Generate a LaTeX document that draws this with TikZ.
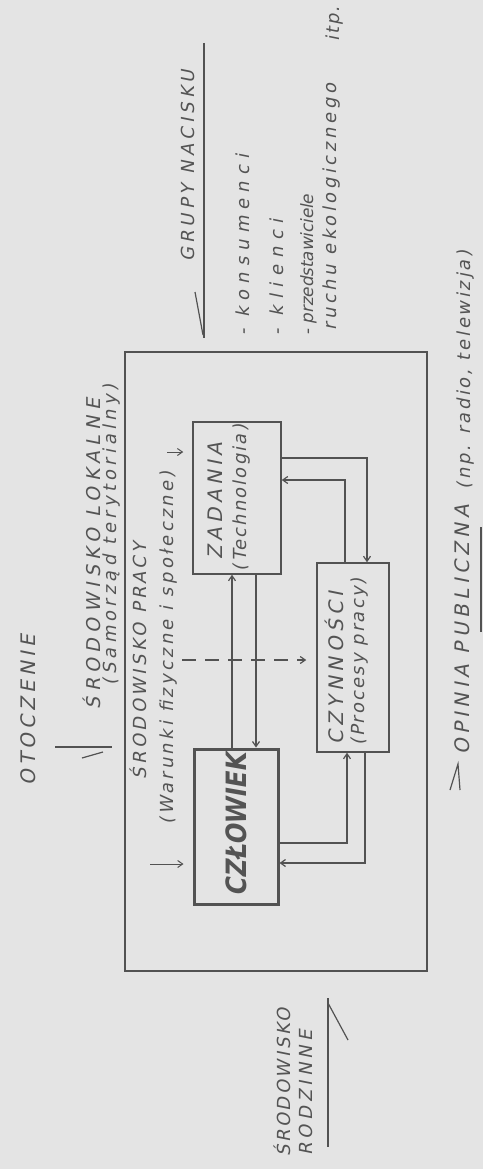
\documentclass[tikz,border=0pt]{standalone}
\usepackage{graphicx}
\usepackage{fontspec}
\setmainfont{DejaVu Sans}[FakeSlant=0.2]
\usetikzlibrary{arrows.meta}
\definecolor{bgc}{RGB}{228,228,228}
\definecolor{ink}{RGB}{82,82,82}
\definecolor{txtc}{RGB}{84,84,84}
\newcommand\lbl[3]{\fontsize{#1}{#1}\selectfont\addfontfeatures{LetterSpace=#2}#3}
\begin{document}
\begin{tikzpicture}[x=1pt,y=-1pt,
  txt/.style={rotate=90,inner sep=0pt,text=txtc,anchor=base},
  txs/.style={rotate=90,inner sep=0pt,text=txtc,anchor=base west},
  box/.style={draw=ink,line width=1.5pt,inner sep=0pt},
  conn/.style={draw=ink,line width=1.2pt,-{Straight Barb[length=5pt,width=7pt]}},
  leadmark/.style={draw=ink,line width=1.2pt}]
\fill[bgc] (0,0) rectangle (483,1169);
\useasboundingbox (0,0) rectangle (483,1169);
% boxes
\node[box,line width=1.6pt,minimum width=302pt,minimum height=619pt] (env) at (276,661.5) {};
\node[box,minimum width=88pt,minimum height=152pt] (zad) at (237,498) {};
\node[box,minimum width=72pt,minimum height=189pt] (czyn) at (353,657.5) {};
\node[box,line width=3pt,minimum width=84pt,minimum height=155pt] (czl) at (236,826.5) {};
% texts
\node[txt] (tOto) at (35,710) {\lbl{20}{21}{OTOCZENIE}};
\node[txt] (tLok) at (100,554) {\lbl{19}{28}{ŚRODOWISKO LOKALNE}};
\node[txt] (tSam) at (116,535) {\lbl{18}{23}{(Samorząd terytorialny)}};
\node[txt] (tPra) at (146,661) {\lbl{18}{19}{ŚRODOWISKO PRACY}};
\node[txt] (tWar) at (173,648) {\lbl{18}{18}{(Warunki fizyczne i społeczne)}};
\node[txt] (tZad) at (222,501) {\lbl{20}{22}{ZADANIA}};
\node[txt] (tTec) at (246,498) {\lbl{18}{12}{(Technologia)}};
\node[txt] (tCzy) at (343,668) {\lbl{20}{22}{CZYNNOŚCI}};
\node[txt] (tPro) at (364,662) {\lbl{18}{12}{(Procesy pracy)}};
\node[txt] (tCzl) at (246,825) {\scalebox{0.87}[1]{\fontsize{28}{28}\selectfont\bfseries CZŁOWIEK}};
\node[txt] (tGru) at (194,166) {\lbl{18}{23}{GRUPY NACISKU}};
\node[txs] (tKon) at (249,336) {\lbl{18}{34}{- konsumenci}};
\node[txs] (tKli) at (283,336) {\lbl{18}{37}{- klienci}};
\node[txs] (tPrz) at (313,336) {\lbl{17}{-1}{- przedstawiciele}};
\node[txs] (tRuc) at (336,331) {\lbl{18}{20}{ruchu ekologicznego}};
\node[txt] (tItp) at (339,24) {\lbl{18}{10}{itp.}};
\node[txt] (tOpi) at (469,630) {\lbl{20}{22}{OPINIA PUBLICZNA}};
\node[txt] (tNp) at (470,370) {\lbl{18}{15}{(np. radio, telewizja)}};
\node[txs] (tSr) at (290,1157) {\lbl{18}{14}{ŚRODOWISKO}};
\node[txs] (tRo) at (312,1156) {\lbl{18}{23}{RODZINNE}};
% connectors
\coordinate (p1) at ([xshift=-4pt]czl.north);
\draw[conn] (p1) -- (p1 |- zad.south);
\coordinate (p2) at ([xshift=19pt]zad.south);
\draw[conn] (p2) -- (p2 |- czl.north);
\coordinate (p3) at ([yshift=40pt]zad.east);
\coordinate (p3b) at ([xshift=14pt]czyn.north);
\draw[conn] (p3) -| (p3b);
\coordinate (p4) at ([xshift=-8pt]czyn.north);
\coordinate (p4b) at ([yshift=18pt]zad.east);
\draw[conn] (p4) |- (p4b);
\coordinate (p5) at ([yshift=-16.5pt]czl.east);
\coordinate (p5b) at ([xshift=-6pt]czyn.south);
\draw[conn] (p5) -| (p5b);
\coordinate (p6) at ([xshift=12pt]czyn.south);
\coordinate (p6b) at ([yshift=-36.5pt]czl.east);
\draw[conn] (p6) |- (p6b);
% dashed influence arrow
\coordinate (d0) at (182,660);
\draw[conn,dash pattern=on 14pt off 9pt,shorten >=10pt] (d0) -- (d0 -| czyn.west);
% small arrows
\coordinate (a1) at (167,452);
\draw[conn,line width=1pt,shorten >=9pt] (a1) -- (a1 -| zad.west);
\coordinate (a2) at (150,864);
\draw[conn,line width=1pt,shorten >=9pt] (a2) -- (a2 -| czl.west);
% leader marks
\draw[leadmark] (55,747) -- (112,747);
\draw[leadmark] (82,758) -- (103,752);
\draw[leadmark] (204,43) -- (204,338);
\draw[leadmark] (203,335) -- (195,292);
\draw[leadmark] (481,527) -- (481,632);
\draw[leadmark] (450,790) -- (458,764) -- (460,790);
\draw[leadmark] (328,998) -- (328,1147);
\draw[leadmark] (328,1003) -- (348,1040);
\end{tikzpicture}
\end{document}
